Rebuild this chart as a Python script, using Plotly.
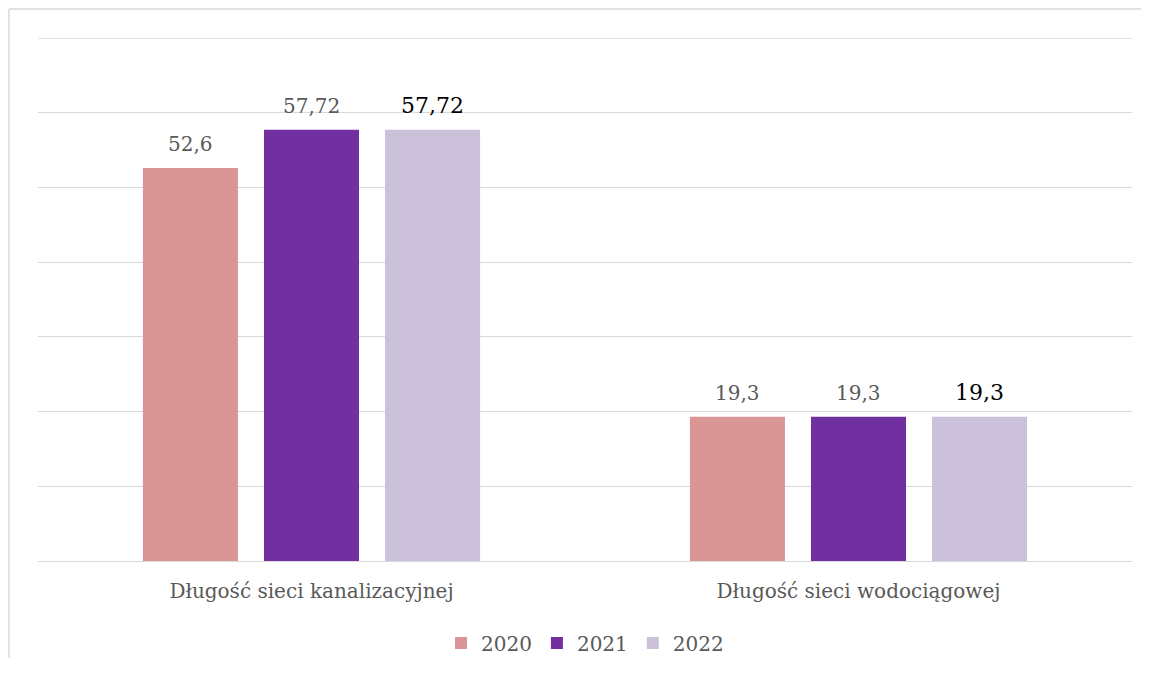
import plotly.graph_objects as go

categories = ["Długość sieci kanalizacyjnej", "Długość sieci wodociągowej"]
years = ["2020", "2021", "2022"]
values_2020 = [52.6, 19.3]
values_2021 = [57.72, 19.3]
values_2022 = [57.72, 19.3]

series = [values_2020, values_2021, values_2022]
colors = ["#d99694", "#7030a0", "#ccc1da"]
label_fonts = [
    dict(family="DejaVu Serif", size=20, color="#595959"),
    dict(family="DejaVu Serif", size=20, color="#595959"),
    dict(family="DejaVu Serif", size=22, color="#000000"),
]
bar_pitch_px = 121  # distance between bar centres inside a group


def fmt(v):
    return f"{v:g}".replace(".", ",")


fig = go.Figure()
for name, vals, col in zip(years, series, colors):
    fig.add_trace(go.Bar(
        name=name,
        x=categories,
        y=vals,
        marker_color=col,
        marker_line_width=0,
    ))

# value labels sit a bit higher above the bars than plotly's "outside" text
for i, (vals, tf) in enumerate(zip(series, label_fonts)):
    for cat, v in zip(categories, vals):
        fig.add_annotation(
            x=cat, y=v, xref="x", yref="y",
            text=fmt(v), showarrow=False, font=tf,
            xanchor="center", yanchor="bottom",
            xshift=(i - 1) * bar_pitch_px, yshift=10,
        )

# page body has an 8px margin; keep the figure inside the window (no scrollbars)
fig.update_layout(
    width=1133,
    height=650,
    barmode="group",
    bargap=0.336,
    bargroupgap=0.215,
    plot_bgcolor="white",
    paper_bgcolor="white",
    margin=dict(l=30, r=9, t=30, b=97, autoexpand=False),
    font=dict(family="DejaVu Serif", color="#595959"),
    xaxis=dict(
        tickfont=dict(size=20, color="#595959"),
        ticks="outside", ticklen=12, tickcolor="rgba(0,0,0,0)",
        showline=False,
    ),
    yaxis=dict(
        range=[0, 70], dtick=10,
        showticklabels=False,
        gridcolor="#d9d9d9", gridwidth=1.3,
        zeroline=True, zerolinecolor="#d9d9d9", zerolinewidth=1.3,
    ),
    legend=dict(
        orientation="h", x=0.5, xanchor="center", y=-0.157, yanchor="middle",
        font=dict(size=20, color="#595959"),
        itemwidth=30,
    ),
    shapes=[
        # top gridline (plotly drops the one on the range edge)
        dict(type="line", xref="paper", yref="y", x0=0, x1=1, y0=70, y1=70,
             line=dict(color="#d9d9d9", width=1.3), layer="below"),
        # chart frame: top and left edges
        dict(type="line", xref="paper", yref="paper",
             x0=-0.0265, x1=1.05, y0=1.0555, y1=1.0555,
             line=dict(color="#d9d9d9", width=1.5)),
        dict(type="line", xref="paper", yref="paper",
             x0=-0.0265, x1=-0.0265, y0=-0.3, y1=1.0555,
             line=dict(color="#d9d9d9", width=1.5)),
    ],
)

fig.write_html("out.html")
